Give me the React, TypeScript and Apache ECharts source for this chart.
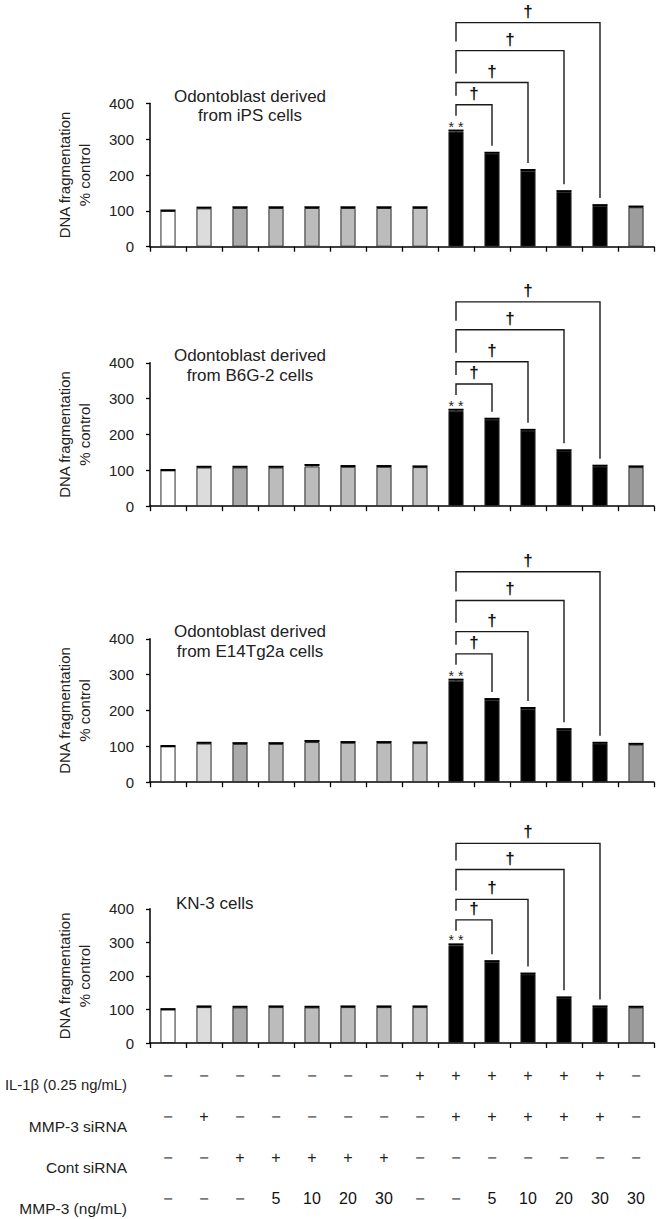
import React, { useEffect, useRef } from "react";
import * as echarts from "echarts";

const FONT = '"Liberation Sans", Arial, sans-serif';

const categories = ["c1", "c2", "c3", "c4", "c5", "c6", "c7", "c8", "c9", "c10", "c11", "c12", "c13", "c14"];

const barColors = ["#ffffff", "#dcdcdc", "#aaaaaa", "#bcbcbc", "#bcbcbc", "#bcbcbc", "#bcbcbc", "#c2c2c2", "#000000", "#000000", "#000000", "#000000", "#000000", "#9c9c9c"];

const panelTitles = [
  "Odontoblast derived\nfrom iPS cells",
  "Odontoblast derived\nfrom B6G-2 cells",
  "Odontoblast derived\nfrom E14Tg2a cells",
  "KN-3 cells",
];

const iPSValues = [100, 107, 108, 108, 108, 108, 108, 108, 321, 260, 212, 153, 114, 110];
const iPSErrors = [1, 2, 2, 2, 2, 2, 2, 2, 3, 2, 2, 2, 2, 2];
const iPSBrackets = [396, 458, 547, 625];

const b6gValues = [100, 108, 108, 108, 111, 110, 110, 109, 266, 242, 211, 154, 111, 109];
const b6gErrors = [1, 2, 2, 2, 4, 2, 2, 2, 3, 2, 2, 2, 2, 2];
const b6gBrackets = [341, 403, 492, 570];

const e14Values = [100, 108, 107, 107, 112, 110, 110, 109, 283, 230, 205, 146, 108, 105];
const e14Errors = [1, 2, 2, 2, 3, 2, 2, 2, 3, 2, 2, 2, 2, 2];
const e14Brackets = [358, 420, 507, 587];

const kn3Values = [100, 107, 106, 107, 106, 107, 107, 107, 291, 242, 205, 134, 107, 106];
const kn3Errors = [1, 2, 2, 2, 2, 2, 2, 2, 3, 2, 2, 2, 2, 2];
const kn3Brackets = [367, 428, 517, 595];

const bracketFrom = 8;
const bracketTargets = [9, 10, 11, 12];

const rowLabels = ["IL-1\u03b2 (0.25 ng/mL)", "MMP-3 siRNA", "Cont siRNA", "MMP-3 (ng/mL)"];
const il1bRow = ["\u2212", "\u2212", "\u2212", "\u2212", "\u2212", "\u2212", "\u2212", "+", "+", "+", "+", "+", "+", "\u2212"];
const mmpSiRow = ["\u2212", "+", "\u2212", "\u2212", "\u2212", "\u2212", "\u2212", "\u2212", "+", "+", "+", "+", "+", "\u2212"];
const contSiRow = ["\u2212", "\u2212", "+", "+", "+", "+", "+", "\u2212", "\u2212", "\u2212", "\u2212", "\u2212", "\u2212", "\u2212"];
const mmp3Row = ["\u2212", "\u2212", "\u2212", "5", "10", "20", "30", "\u2212", "\u2212", "5", "10", "20", "30", "30"];

const yTicks = { min: 0, max: 400, interval: 100 };

const panels = [
  { values: iPSValues, errors: iPSErrors, brackets: iPSBrackets, title: panelTitles[0] },
  { values: b6gValues, errors: b6gErrors, brackets: b6gBrackets, title: panelTitles[1] },
  { values: e14Values, errors: e14Errors, brackets: e14Brackets, title: panelTitles[2] },
  { values: kn3Values, errors: kn3Errors, brackets: kn3Brackets, title: panelTitles[3] },
];

const GRID_LEFT = 150;
const GRID_WIDTH = 504;
const GRID_H = 143.4;
const gridTops = [103.3, 362.8, 638.8, 908.8];
const rowYs = [1085, 1126, 1167, 1208];

function token(s: string) {
  if (s === "\u2212") return "{m|\u2212}";
  if (s === "+") return "{p|+}";
  return "{n|" + s + "}";
}

export default function App() {
  const ref = useRef<HTMLDivElement>(null);
  useEffect(() => {
    if (!ref.current) return;
    const chart = echarts.init(ref.current, null, { renderer: "svg" });
    const rows = [il1bRow, mmpSiRow, contSiRow, mmp3Row];

    const grids: any[] = [];
    const xAxes: any[] = [];
    const yAxes: any[] = [];
    const series: any[] = [];
    const graphics: any[] = [];

    panels.forEach((p, pi) => {
      const top = gridTops[pi];
      grids.push({ left: GRID_LEFT, width: GRID_WIDTH, top, height: GRID_H, containLabel: false });
      const isLast = pi === panels.length - 1;
      xAxes.push({
        gridIndex: pi,
        type: "category",
        data: categories,
        boundaryGap: true,
        axisLine: { show: true, lineStyle: { color: "#000", width: 1.5 } },
        axisTick: { show: true, length: 5, interval: 0, alignWithLabel: false, lineStyle: { color: "#000", width: 1.3 } },
        splitLine: { show: false },
        axisLabel: isLast
          ? {
              show: true,
              interval: 0,
              margin: 12,
              lineHeight: 41,
              formatter: (_v: string, idx: number) => rows.map((r) => token(r[idx])).join("\n"),
              rich: {
                m: { color: "#7a7a7a", fontSize: 16, fontWeight: "bold", lineHeight: 41, fontFamily: FONT },
                p: { color: "#222", fontSize: 16, lineHeight: 41, fontFamily: FONT },
                n: { color: "#111", fontSize: 16, lineHeight: 41, fontFamily: FONT },
              },
            }
          : { show: false },
      });
      yAxes.push({
        gridIndex: pi,
        type: "value",
        min: yTicks.min,
        max: yTicks.max,
        interval: yTicks.interval,
        name: "DNA fragmentation\n% control",
        nameLocation: "middle",
        nameRotate: 90,
        nameGap: 56,
        nameTextStyle: { fontSize: 15, lineHeight: 19.5, color: "#222", fontFamily: FONT },
        axisLine: { show: true, lineStyle: { color: "#000", width: 1.5 } },
        axisTick: { show: true, length: 4, lineStyle: { color: "#000", width: 1.3 } },
        splitLine: { show: false },
        axisLabel: { fontSize: 15, color: "#222", margin: 16, fontFamily: FONT },
      });

      series.push({
        type: "bar",
        xAxisIndex: pi,
        yAxisIndex: pi,
        barWidth: "42%",
        data: p.values.map((v, i) => ({ value: v, itemStyle: { color: barColors[i] } })),
        itemStyle: { borderColor: "#2a2a2a", borderWidth: 1 },
        z: 2,
      });

      series.push({
        type: "custom",
        xAxisIndex: pi,
        yAxisIndex: pi,
        z: 3,
        data: p.values.map((v, i) => [i, v, p.errors[i]]),
        encode: { x: 0, y: 1 },
        renderItem: (_params: any, api: any) => {
          const i = api.value(0);
          const v = api.value(1);
          const e = api.value(2);
          const [x, y0] = api.coord([i, v]);
          const y1 = api.coord([i, v + e])[1];
          const bw = api.size([1, 0])[0] * 0.42;
          return {
            type: "group",
            children: [
              { type: "line", shape: { x1: x, y1: y0, x2: x, y2: y1 }, style: { stroke: "#000", lineWidth: 1.2 } },
              { type: "line", shape: { x1: x - bw / 2, y1: y1, x2: x + bw / 2, y2: y1 }, style: { stroke: "#000", lineWidth: 2 } },
            ],
          };
        },
      });

      const bracketData = p.brackets.map((lvl, k) => {
        const to = bracketTargets[k];
        return [bracketFrom, to, lvl, k === 0 ? -1 : p.brackets[k - 1], p.values[to] + p.errors[to]];
      });
      series.push({
        type: "custom",
        xAxisIndex: pi,
        yAxisIndex: pi,
        z: 4,
        clip: false,
        data: bracketData,
        encode: { x: 0, y: 2 },
        renderItem: (_params: any, api: any) => {
          const from = api.value(0);
          const to = api.value(1);
          const lvl = api.value(2);
          const prev = api.value(3);
          const rightRef = api.value(4);
          const [x1, yLine] = api.coord([from, lvl]);
          const x2 = api.coord([to, lvl])[0];
          const yLeft = prev < 0 ? yLine + 11 : api.coord([from, prev])[1] - 9;
          const yRight = api.coord([to, rightRef])[1] - 7;
          return {
            type: "group",
            children: [
              {
                type: "polyline",
                shape: { points: [[x1, yLeft], [x1, yLine], [x2, yLine], [x2, yRight]] },
                style: { stroke: "#1a1a1a", lineWidth: 1.4, fill: null },
              },
              {
                type: "text",
                style: {
                  text: "\u2020",
                  x: (x1 + x2) / 2,
                  y: yLine - 11.5,
                  align: "center",
                  verticalAlign: "middle",
                  font: "bold 17px " + FONT,
                  fill: "#111",
                },
              },
            ],
          };
        },
      });

      series.push({
        type: "custom",
        xAxisIndex: pi,
        yAxisIndex: pi,
        z: 4,
        clip: false,
        data: [[bracketFrom, p.values[bracketFrom] + p.errors[bracketFrom]]],
        encode: { x: 0, y: 1 },
        renderItem: (_params: any, api: any) => {
          const [x, y] = api.coord([api.value(0), api.value(1)]);
          return {
            type: "text",
            style: {
              text: "* *",
              x,
              y: y - 4,
              align: "center",
              verticalAlign: "middle",
              font: "14px " + FONT,
              fill: "#222",
            },
          };
        },
      });

      if (isLast) {
        graphics.push({
          type: "text",
          left: 176,
          top: top - 14,
          style: { text: p.title, font: "17px " + FONT, fill: "#222" },
        });
      } else {
        graphics.push({
          type: "text",
          x: 250,
          y: top - 16.75,
          style: {
            text: p.title,
            font: "17px " + FONT,
            fill: "#222",
            align: "center",
            verticalAlign: "top",
            lineHeight: 19.5,
          },
        });
      }
    });

    rowLabels.forEach((t, i) => {
      graphics.push({
        type: "text",
        x: 127,
        y: rowYs[i],
        style: { text: t, font: (i === 0 ? "14.8px " : "15.5px ") + FONT, fill: "#222", align: "right", verticalAlign: "middle" },
      });
    });

    chart.setOption({
      animation: false,
      backgroundColor: "#ffffff",
      textStyle: { fontFamily: FONT },
      grid: grids,
      xAxis: xAxes,
      yAxis: yAxes,
      series,
      graphic: graphics,
    });
    return () => chart.dispose();
  }, []);
  return <div ref={ref} style={{ position: "absolute", left: 0, top: 0, width: 664, height: 1219 }} />;
}
